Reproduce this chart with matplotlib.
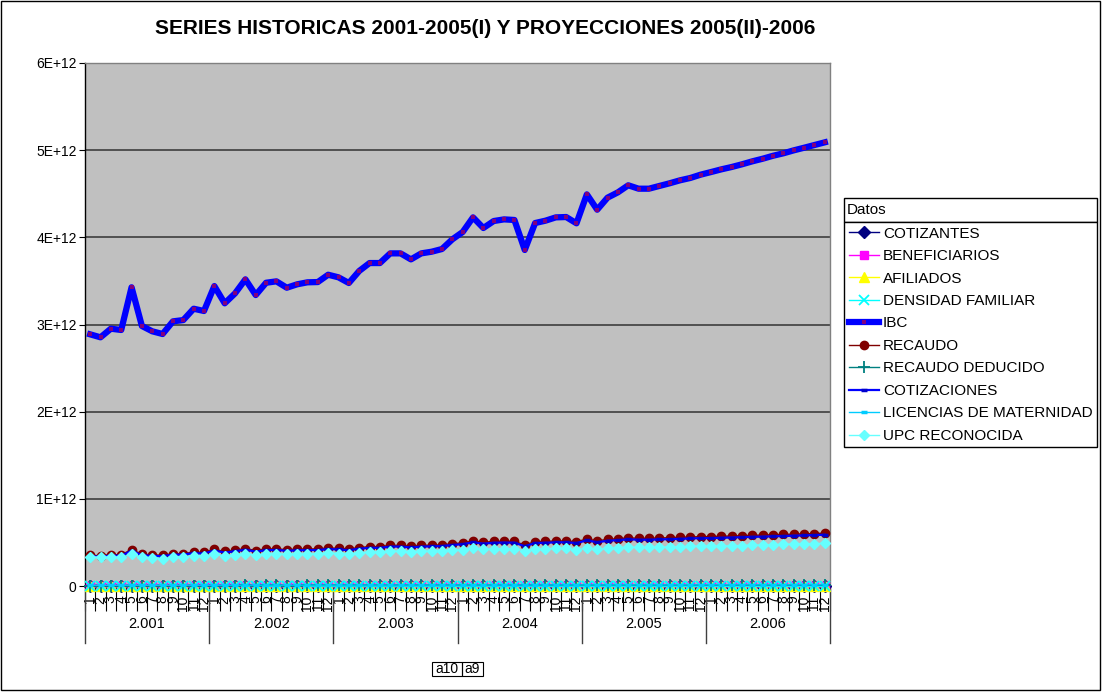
import matplotlib
matplotlib.use('Agg')
import matplotlib.pyplot as plt
import matplotlib.transforms as mtransforms
from matplotlib.patches import Rectangle
import numpy as np

plt.rcParams['font.family'] = ['Liberation Sans', 'DejaVu Sans']

# ---------------- data ----------------
years = ['2.001', '2.002', '2.003', '2.004', '2.005', '2.006']
months = ['1', '2', '3', '4', '5', '6', '7', '8', '9', '10', '11', '12']

# near-zero series (people, millions)
cotizantes_m = [5.12, 5.08, 5.15, 5.18, 5.31, 5.20, 5.17, 5.16, 5.22, 5.25, 5.30, 5.28,
                5.35, 5.29, 5.33, 5.40, 5.36, 5.41, 5.43, 5.40, 5.44, 5.46, 5.47, 5.52,
                5.55, 5.52, 5.60, 5.66, 5.68, 5.74, 5.75, 5.72, 5.77, 5.80, 5.83, 5.90,
                5.95, 6.05, 6.00, 6.04, 6.07, 6.08, 5.90, 6.06, 6.10, 6.13, 6.15, 6.12,
                6.30, 6.22, 6.30, 6.34, 6.39, 6.38, 6.39, 6.42, 6.45, 6.48, 6.51, 6.54,
                6.57, 6.60, 6.63, 6.66, 6.69, 6.72, 6.75, 6.78, 6.81, 6.84, 6.87, 6.90]
beneficiarios_m = [8.40, 8.35, 8.44, 8.47, 8.60, 8.50, 8.46, 8.45, 8.52, 8.55, 8.61, 8.58,
                   8.66, 8.59, 8.63, 8.71, 8.66, 8.72, 8.74, 8.70, 8.75, 8.77, 8.78, 8.84,
                   8.86, 8.83, 8.91, 8.97, 8.99, 9.05, 9.06, 9.03, 9.08, 9.11, 9.14, 9.21,
                   9.26, 9.36, 9.31, 9.35, 9.38, 9.39, 9.20, 9.37, 9.41, 9.44, 9.46, 9.43,
                   9.60, 9.52, 9.60, 9.64, 9.69, 9.68, 9.69, 9.72, 9.75, 9.78, 9.81, 9.84,
                   9.87, 9.90, 9.93, 9.96, 9.99, 10.02, 10.05, 10.08, 10.11, 10.14, 10.17, 10.20]
afiliados_m = [13.52, 13.43, 13.59, 13.65, 13.91, 13.70, 13.63, 13.61, 13.74, 13.80, 13.91, 13.86,
               14.01, 13.88, 13.96, 14.11, 14.02, 14.13, 14.17, 14.10, 14.19, 14.23, 14.25, 14.36,
               14.41, 14.35, 14.51, 14.63, 14.67, 14.79, 14.81, 14.75, 14.85, 14.91, 14.97, 15.11,
               15.21, 15.41, 15.31, 15.39, 15.45, 15.47, 15.10, 15.43, 15.51, 15.57, 15.61, 15.55,
               15.90, 15.74, 15.90, 15.98, 16.08, 16.06, 16.08, 16.14, 16.20, 16.26, 16.32, 16.38,
               16.44, 16.50, 16.56, 16.62, 16.68, 16.74, 16.80, 16.86, 16.92, 16.98, 17.04, 17.10]
densidad_familiar = [2.64, 2.64, 2.64, 2.64, 2.62, 2.63, 2.64, 2.64, 2.63, 2.63, 2.62, 2.62,
                     2.62, 2.62, 2.62, 2.61, 2.62, 2.61, 2.61, 2.61, 2.61, 2.61, 2.61, 2.60,
                     2.60, 2.60, 2.59, 2.58, 2.58, 2.58, 2.58, 2.58, 2.57, 2.57, 2.57, 2.56,
                     2.56, 2.55, 2.55, 2.55, 2.55, 2.54, 2.56, 2.55, 2.54, 2.54, 2.54, 2.54,
                     2.52, 2.53, 2.52, 2.52, 2.52, 2.52, 2.52, 2.51, 2.51, 2.51, 2.51, 2.50,
                     2.50, 2.50, 2.50, 2.50, 2.49, 2.49, 2.49, 2.49, 2.49, 2.48, 2.48, 2.48]

# money series, in units of 1E+12 pesos
ibc_t = [2.887, 2.853, 2.952, 2.937, 3.427, 2.983, 2.922, 2.891, 3.036, 3.051, 3.181, 3.155,
         3.441, 3.243, 3.357, 3.518, 3.338, 3.479, 3.495, 3.422, 3.461, 3.484, 3.487, 3.571,
         3.541, 3.476, 3.614, 3.705, 3.705, 3.816, 3.816, 3.747, 3.816, 3.835, 3.866, 3.977,
         4.061, 4.229, 4.107, 4.187, 4.206, 4.199, 3.855, 4.164, 4.191, 4.229, 4.233, 4.161,
         4.493, 4.317, 4.455, 4.516, 4.597, 4.558, 4.558, 4.589, 4.620, 4.654, 4.681, 4.719,
         4.749, 4.780, 4.807, 4.838, 4.872, 4.902, 4.936, 4.964, 4.998, 5.028, 5.059, 5.090]
recaudo_t = [0.352, 0.348, 0.360, 0.358, 0.418, 0.364, 0.356, 0.353, 0.370, 0.372, 0.388, 0.385,
             0.420, 0.396, 0.410, 0.429, 0.407, 0.424, 0.426, 0.417, 0.422, 0.425, 0.425, 0.436,
             0.432, 0.424, 0.441, 0.452, 0.452, 0.466, 0.466, 0.457, 0.466, 0.468, 0.472, 0.485,
             0.495, 0.516, 0.501, 0.511, 0.513, 0.512, 0.470, 0.508, 0.511, 0.516, 0.516, 0.508,
             0.539, 0.518, 0.535, 0.542, 0.552, 0.547, 0.547, 0.551, 0.554, 0.558, 0.562, 0.566,
             0.566, 0.570, 0.573, 0.577, 0.581, 0.584, 0.588, 0.591, 0.595, 0.598, 0.602, 0.606]
recaudo_deducido_t = [0.0048, 0.0047, 0.0049, 0.0049, 0.0057, 0.0050, 0.0049, 0.0048, 0.0050, 0.0051, 0.0053, 0.0052,
                      0.0057, 0.0054, 0.0056, 0.0058, 0.0055, 0.0058, 0.0058, 0.0057, 0.0057, 0.0058, 0.0058, 0.0059,
                      0.0059, 0.0058, 0.0060, 0.0061, 0.0061, 0.0063, 0.0063, 0.0062, 0.0063, 0.0064, 0.0064, 0.0066,
                      0.0067, 0.0070, 0.0068, 0.0069, 0.0070, 0.0070, 0.0064, 0.0069, 0.0069, 0.0070, 0.0070, 0.0069,
                      0.0074, 0.0071, 0.0074, 0.0075, 0.0076, 0.0075, 0.0075, 0.0076, 0.0076, 0.0077, 0.0077, 0.0078,
                      0.0078, 0.0079, 0.0079, 0.0080, 0.0080, 0.0081, 0.0081, 0.0082, 0.0082, 0.0083, 0.0083, 0.0084]
cotizaciones_t = [0.341, 0.338, 0.349, 0.347, 0.405, 0.353, 0.345, 0.342, 0.359, 0.361, 0.376, 0.373,
                  0.407, 0.384, 0.398, 0.416, 0.395, 0.411, 0.413, 0.404, 0.409, 0.412, 0.412, 0.423,
                  0.419, 0.411, 0.428, 0.438, 0.438, 0.452, 0.452, 0.443, 0.452, 0.454, 0.458, 0.470,
                  0.480, 0.501, 0.486, 0.496, 0.498, 0.497, 0.456, 0.493, 0.496, 0.501, 0.501, 0.493,
                  0.523, 0.502, 0.519, 0.526, 0.535, 0.531, 0.531, 0.534, 0.537, 0.541, 0.545, 0.549,
                  0.549, 0.553, 0.556, 0.560, 0.564, 0.566, 0.570, 0.573, 0.577, 0.580, 0.584, 0.588]
licencias_t = [0.0090, 0.0088, 0.0091, 0.0092, 0.0095, 0.0093, 0.0092, 0.0091, 0.0094, 0.0095, 0.0097, 0.0096,
               0.0099, 0.0097, 0.0098, 0.0100, 0.0099, 0.0101, 0.0101, 0.0100, 0.0101, 0.0102, 0.0102, 0.0104,
               0.0104, 0.0103, 0.0105, 0.0107, 0.0107, 0.0109, 0.0109, 0.0108, 0.0109, 0.0110, 0.0110, 0.0112,
               0.0114, 0.0117, 0.0115, 0.0116, 0.0117, 0.0117, 0.0111, 0.0116, 0.0117, 0.0118, 0.0118, 0.0117,
               0.0122, 0.0119, 0.0121, 0.0122, 0.0124, 0.0123, 0.0123, 0.0124, 0.0124, 0.0125, 0.0126, 0.0126,
               0.0127, 0.0127, 0.0128, 0.0129, 0.0129, 0.0130, 0.0130, 0.0131, 0.0132, 0.0132, 0.0133, 0.0133]
upc_reconocida_t = [0.335, 0.330, 0.333, 0.330, 0.362, 0.334, 0.322, 0.315, 0.328, 0.334, 0.348, 0.344,
                    0.365, 0.345, 0.356, 0.372, 0.354, 0.368, 0.370, 0.363, 0.367, 0.369, 0.370, 0.378,
                    0.372, 0.365, 0.379, 0.388, 0.388, 0.398, 0.398, 0.391, 0.398, 0.400, 0.403, 0.414,
                    0.414, 0.431, 0.419, 0.427, 0.429, 0.428, 0.405, 0.425, 0.427, 0.431, 0.432, 0.413,
                    0.436, 0.419, 0.432, 0.438, 0.446, 0.442, 0.442, 0.445, 0.448, 0.451, 0.454, 0.458,
                    0.456, 0.459, 0.461, 0.464, 0.468, 0.471, 0.474, 0.477, 0.480, 0.483, 0.486, 0.489]

title = 'SERIES HISTORICAS 2001-2005(I) Y PROYECCIONES 2005(II)-2006'
legend_title = 'Datos'
ytick_vals = [0, 1e12, 2e12, 3e12, 4e12, 5e12, 6e12]
ytick_labels = ['0', '1E+12', '2E+12', '3E+12', '4E+12', '5E+12', '6E+12']
field_labels = ['a10', 'a9']

# ---------------- figure ----------------
W, H = 1102, 692
fig = plt.figure(figsize=(W / 100, H / 100), dpi=100)
fig.patch.set_facecolor('white')

L, R, T, B = 85, 830, 63, 586
ax = fig.add_axes([L / W, 1 - B / H, (R - L) / W, (B - T) / H])
ax.set_facecolor('#C0C0C0')

n = len(ibc_t)
x = np.arange(n)

series = [
    ('COTIZANTES', np.array(cotizantes_m) * 1e6, dict(color='#000080', marker='D', ms=6, lw=1.0)),
    ('BENEFICIARIOS', np.array(beneficiarios_m) * 1e6, dict(color='#FF00FF', marker='s', ms=6, lw=1.0)),
    ('AFILIADOS', np.array(afiliados_m) * 1e6, dict(color='#FFFF00', marker='^', ms=7, lw=1.0)),
    ('DENSIDAD FAMILIAR', np.array(densidad_familiar), dict(color='#00FFFF', marker='x', ms=6.5, lw=1.0, mew=1.3)),
    ('IBC', np.array(ibc_t) * 1e12, dict(color='#0000FF', marker='s', ms=3.2, lw=4.5,
                                          mfc='#800080', mec='#800080', mew=0)),
    ('RECAUDO', np.array(recaudo_t) * 1e12, dict(color='#800000', marker='o', ms=6, lw=1.0)),
    ('RECAUDO DEDUCIDO', np.array(recaudo_deducido_t) * 1e12, dict(color='#008080', marker='+', ms=8, lw=1.0, mew=1.3)),
    ('COTIZACIONES', np.array(cotizaciones_t) * 1e12, dict(color='#0000FF', marker='_', ms=5, lw=1.6,
                                                            mec='#0000CC', mew=2.5)),
    ('LICENCIAS DE MATERNIDAD', np.array(licencias_t) * 1e12, dict(color='#00CCFF', marker='_', ms=5, lw=1.0, mew=2.5)),
    ('UPC RECONOCIDA', np.array(upc_reconocida_t) * 1e12, dict(color='#66FFFF', marker='D', ms=5.5, lw=1.0)),
]

handles = []
for i, (name, vals, st) in enumerate(series):
    ln, = ax.plot(x, vals, label=name, clip_on=False, zorder=3 + i * 0.1, **st)
    handles.append(ln)

ax.set_xlim(-0.5, n - 0.5)
ax.set_ylim(0, 6e12)

# y axis
ax.set_yticks(ytick_vals)
ax.set_yticklabels(ytick_labels, fontsize=10)
ax.yaxis.grid(True, color='#333333', lw=1.1, zorder=1)
ax.set_axisbelow(True)
ax.tick_params(axis='y', direction='out', length=4, width=0.8, pad=2)

# x axis (two-level category axis)
ax.set_xticks(x)
ax.set_xticklabels([months[i % 12] for i in range(n)], rotation=90, fontsize=10, va='top', ha='center')
ax.set_xticks(np.arange(-0.5, n, 1), minor=True)
ax.tick_params(axis='x', which='major', length=0, pad=7)
ax.tick_params(axis='x', which='minor', length=18, width=0.8, color='black', direction='out')

trans = mtransforms.blended_transform_factory(ax.transData, ax.transAxes)
yr_bottom = -(643 - B) / (B - T)
for k in range(len(years) + 1):
    ax.plot([12 * k - 0.5, 12 * k - 0.5], [0, yr_bottom], transform=trans, clip_on=False,
            color='#404040', lw=1.0)
for k, yl in enumerate(years):
    ax.text(12 * k + 5.5, -(624 - B) / (B - T), yl, transform=trans, ha='center', va='center',
            fontsize=10.5)

for s in ['top', 'right']:
    ax.spines[s].set_color('#808080')
    ax.spines[s].set_linewidth(1.0)
for s in ['left', 'bottom']:
    ax.spines[s].set_color('black')
    ax.spines[s].set_linewidth(1.0)

# title
fig.text(485 / W, 1 - 29 / H, title, ha='center', va='center', fontsize=15, fontweight='bold')

# legend
leg = fig.legend(handles, [s[0] for s in series], loc='upper left',
                 bbox_to_anchor=(844 / W, 1 - 222 / H), frameon=True, fancybox=False,
                 edgecolor='black', framealpha=1, fontsize=11, handlelength=2.0,
                 handletextpad=0.25, labelspacing=0.555, borderpad=0.3, borderaxespad=0)
leg.get_frame().set_linewidth(1.0)

fig.canvas.draw()
bb = leg.get_window_extent()
fig.add_artist(Rectangle((bb.x0 / W, bb.y1 / H), bb.width / W, 24 / H, transform=fig.transFigure,
                         fill=False, ec='black', lw=1.0))
fig.text((bb.x0 + 3) / W, (bb.y1 + 12) / H, legend_title, ha='left', va='center', fontsize=11)

# page field buttons
x0f = 432
widths = [30, 21]
for lab, wdt in zip(field_labels, widths):
    fig.add_artist(Rectangle((x0f / W, 1 - 676 / H), wdt / W, 14 / H, transform=fig.transFigure,
                             fill=False, ec='black', lw=0.8))
    fig.text((x0f + wdt / 2) / W, 1 - 669 / H, lab, ha='center', va='center', fontsize=10)
    x0f += wdt

# outer chart border
fig.add_artist(Rectangle((1 / W, 2 / H), 1099 / W, 689 / H, transform=fig.transFigure,
                         fill=False, ec='black', lw=1.0))

fig.savefig('out.png', dpi=100, facecolor='white')
